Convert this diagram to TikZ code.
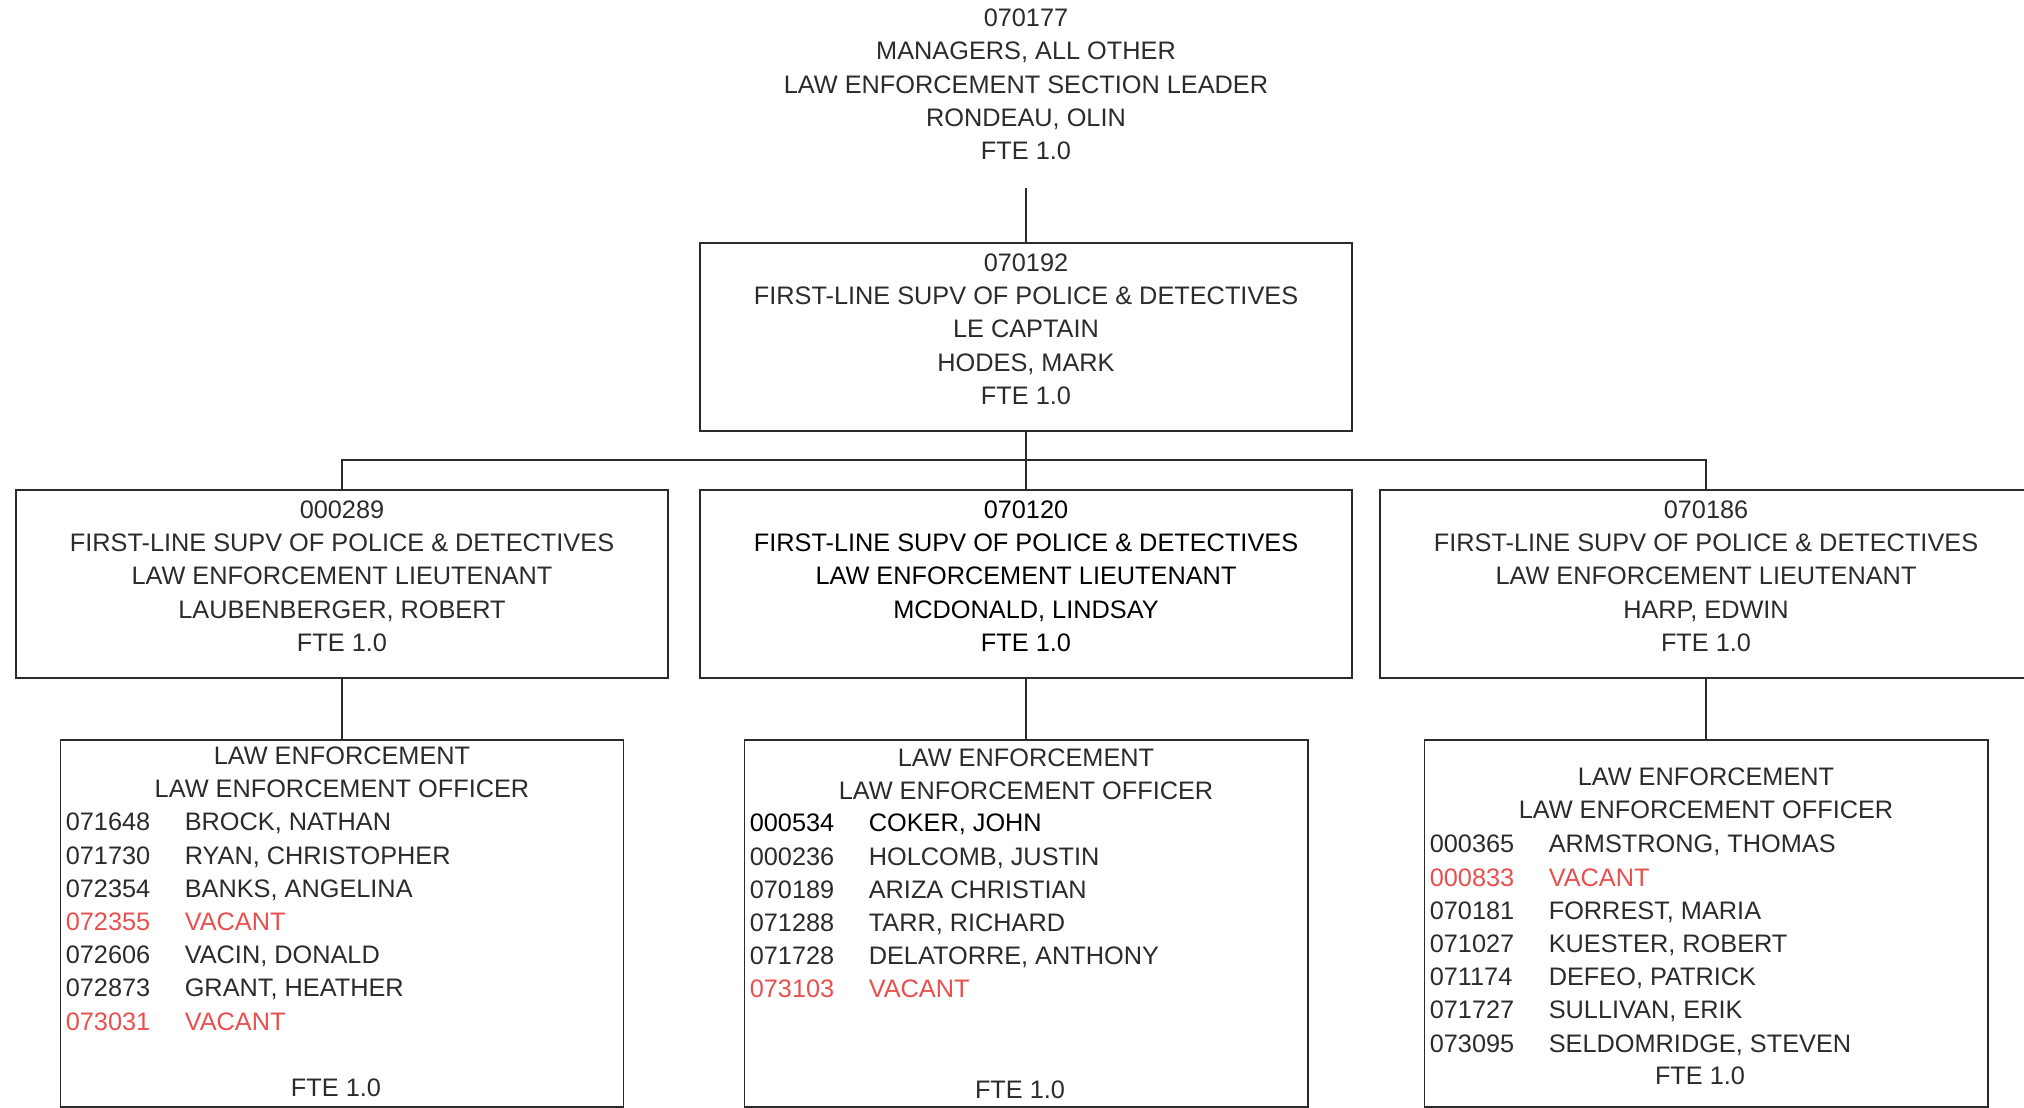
\documentclass[tikz,border=0pt]{standalone}
\usepackage{fontspec}
\setmainfont{Liberation Sans}
\usetikzlibrary{positioning,calc}

\definecolor{ink}{HTML}{2B2B2B}
\definecolor{vacant}{HTML}{E8504F}

\begin{document}
\begin{tikzpicture}[
    x=0.025cm, y=-0.025cm,
    node distance=1.5cm,
    every node/.style={font=\fontsize{18}{23.7}\selectfont, text=ink},
    box/.style={draw=ink, line width=1.3pt, minimum width=16.3cm, minimum height=4.7cm, inner sep=0pt},
    boxtext/.style={align=center, yshift=0.2cm},
    rosterbox/.style={draw=ink, line width=1.3pt, minimum width=14.075cm, minimum height=9.175cm, inner sep=0pt},
    heading/.style={align=center},
    entry/.style={anchor=base west, inner sep=0pt},
    link/.style={draw=ink, line width=1.3pt}
]

\useasboundingbox (0,0) rectangle (2024,1107);

% section leader and captain
\node[align=center, inner ysep=0.68cm] (mgr) at (1026,84.5)
    {070177\\MANAGERS, ALL OTHER\\LAW ENFORCEMENT SECTION LEADER\\RONDEAU, OLIN\\FTE 1.0};
\node[box, label={[boxtext]center:{070192\\FIRST-LINE SUPV OF POLICE \& DETECTIVES\\LE CAPTAIN\\HODES, MARK\\FTE 1.0}}] (capt) at (1026,337) {};

% lieutenants
\node[box, label={[boxtext]center:{000289\\FIRST-LINE SUPV OF POLICE \& DETECTIVES\\LAW ENFORCEMENT LIEUTENANT\\LAUBENBERGER, ROBERT\\FTE 1.0}}] (lt1) at (342,584) {};
\node[box, label={[boxtext, text=black]center:{070120\\FIRST-LINE SUPV OF POLICE \& DETECTIVES\\LAW ENFORCEMENT LIEUTENANT\\MCDONALD, LINDSAY\\FTE 1.0}}] (lt2) at (1026,584) {};
\node[box, label={[boxtext]center:{070186\\FIRST-LINE SUPV OF POLICE \& DETECTIVES\\LAW ENFORCEMENT LIEUTENANT\\HARP, EDWIN\\FTE 1.0}}] (lt3) at (1706,584) {};

% officer rosters
\node[rosterbox, below=of lt1] (of1) {};
\node[rosterbox, below=of lt2] (of2) {};
\node[rosterbox, below=of lt3] (of3) {};

\coordinate (bus) at (1026,460);
\draw[link] (mgr.south) -- (capt.north);
\draw[link] (capt.south) -- (lt2.north);
\draw[link] (lt1.north) |- (bus) -| (lt3.north);
\draw[link] (lt1) -- (of1);
\draw[link] (lt2) -- (of2);
\draw[link] (lt3) -- (of3);

\node[heading] (of1h) at ($(of1.north)+(0,33)$) {LAW ENFORCEMENT\\LAW ENFORCEMENT OFFICER};
\foreach \num/\who/\tint [count=\i] in {
    071648/{BROCK, NATHAN}/ink, 071730/{RYAN, CHRISTOPHER}/ink,
    072354/{BANKS, ANGELINA}/ink, 072355/VACANT/vacant,
    072606/{VACIN, DONALD}/ink, 072873/{GRANT, HEATHER}/ink,
    073031/VACANT/vacant}
{
    \node[entry, text=\tint] (of1n\i) at ($(of1.north west)+(6,{92+33.2*(\i-1)})$) {\num};
    \node[entry, text=\tint] (of1p\i) at ($(of1.north west)+(125,{92+33.2*(\i-1)})$) {\who};
}
\node (of1f) at ($(of1.north)+(-6,349)$) {FTE 1.0};

\node[heading] (of2h) at ($(of2.north)+(0,35)$) {LAW ENFORCEMENT\\LAW ENFORCEMENT OFFICER};
\foreach \num/\who/\tint [count=\i] in {
    000534/{COKER, JOHN}/black, 000236/{HOLCOMB, JUSTIN}/ink,
    070189/{ARIZA CHRISTIAN}/ink, 071288/{TARR, RICHARD}/ink,
    071728/{DELATORRE, ANTHONY}/ink, 073103/VACANT/vacant}
{
    \node[entry, text=\tint] (of2n\i) at ($(of2.north west)+(6,{93+33.2*(\i-1)})$) {\num};
    \node[entry, text=\tint] (of2p\i) at ($(of2.north west)+(125,{93+33.2*(\i-1)})$) {\who};
}
\node (of2f) at ($(of2.north)+(-6,351)$) {FTE 1.0};

\node[heading] (of3h) at ($(of3.north)+(0,54)$) {LAW ENFORCEMENT\\LAW ENFORCEMENT OFFICER};
\foreach \num/\who/\tint [count=\i] in {
    000365/{ARMSTRONG, THOMAS}/ink, 000833/VACANT/vacant,
    070181/{FORREST, MARIA}/ink, 071027/{KUESTER, ROBERT}/ink,
    071174/{DEFEO, PATRICK}/ink, 071727/{SULLIVAN, ERIK}/ink,
    073095/{SELDOMRIDGE, STEVEN}/ink}
{
    \node[entry, text=\tint] (of3n\i) at ($(of3.north west)+(6,{114+33.2*(\i-1)})$) {\num};
    \node[entry, text=\tint] (of3p\i) at ($(of3.north west)+(125,{114+33.2*(\i-1)})$) {\who};
}
\node (of3f) at ($(of3.north)+(-6,337)$) {FTE 1.0};

\end{tikzpicture}
\end{document}
